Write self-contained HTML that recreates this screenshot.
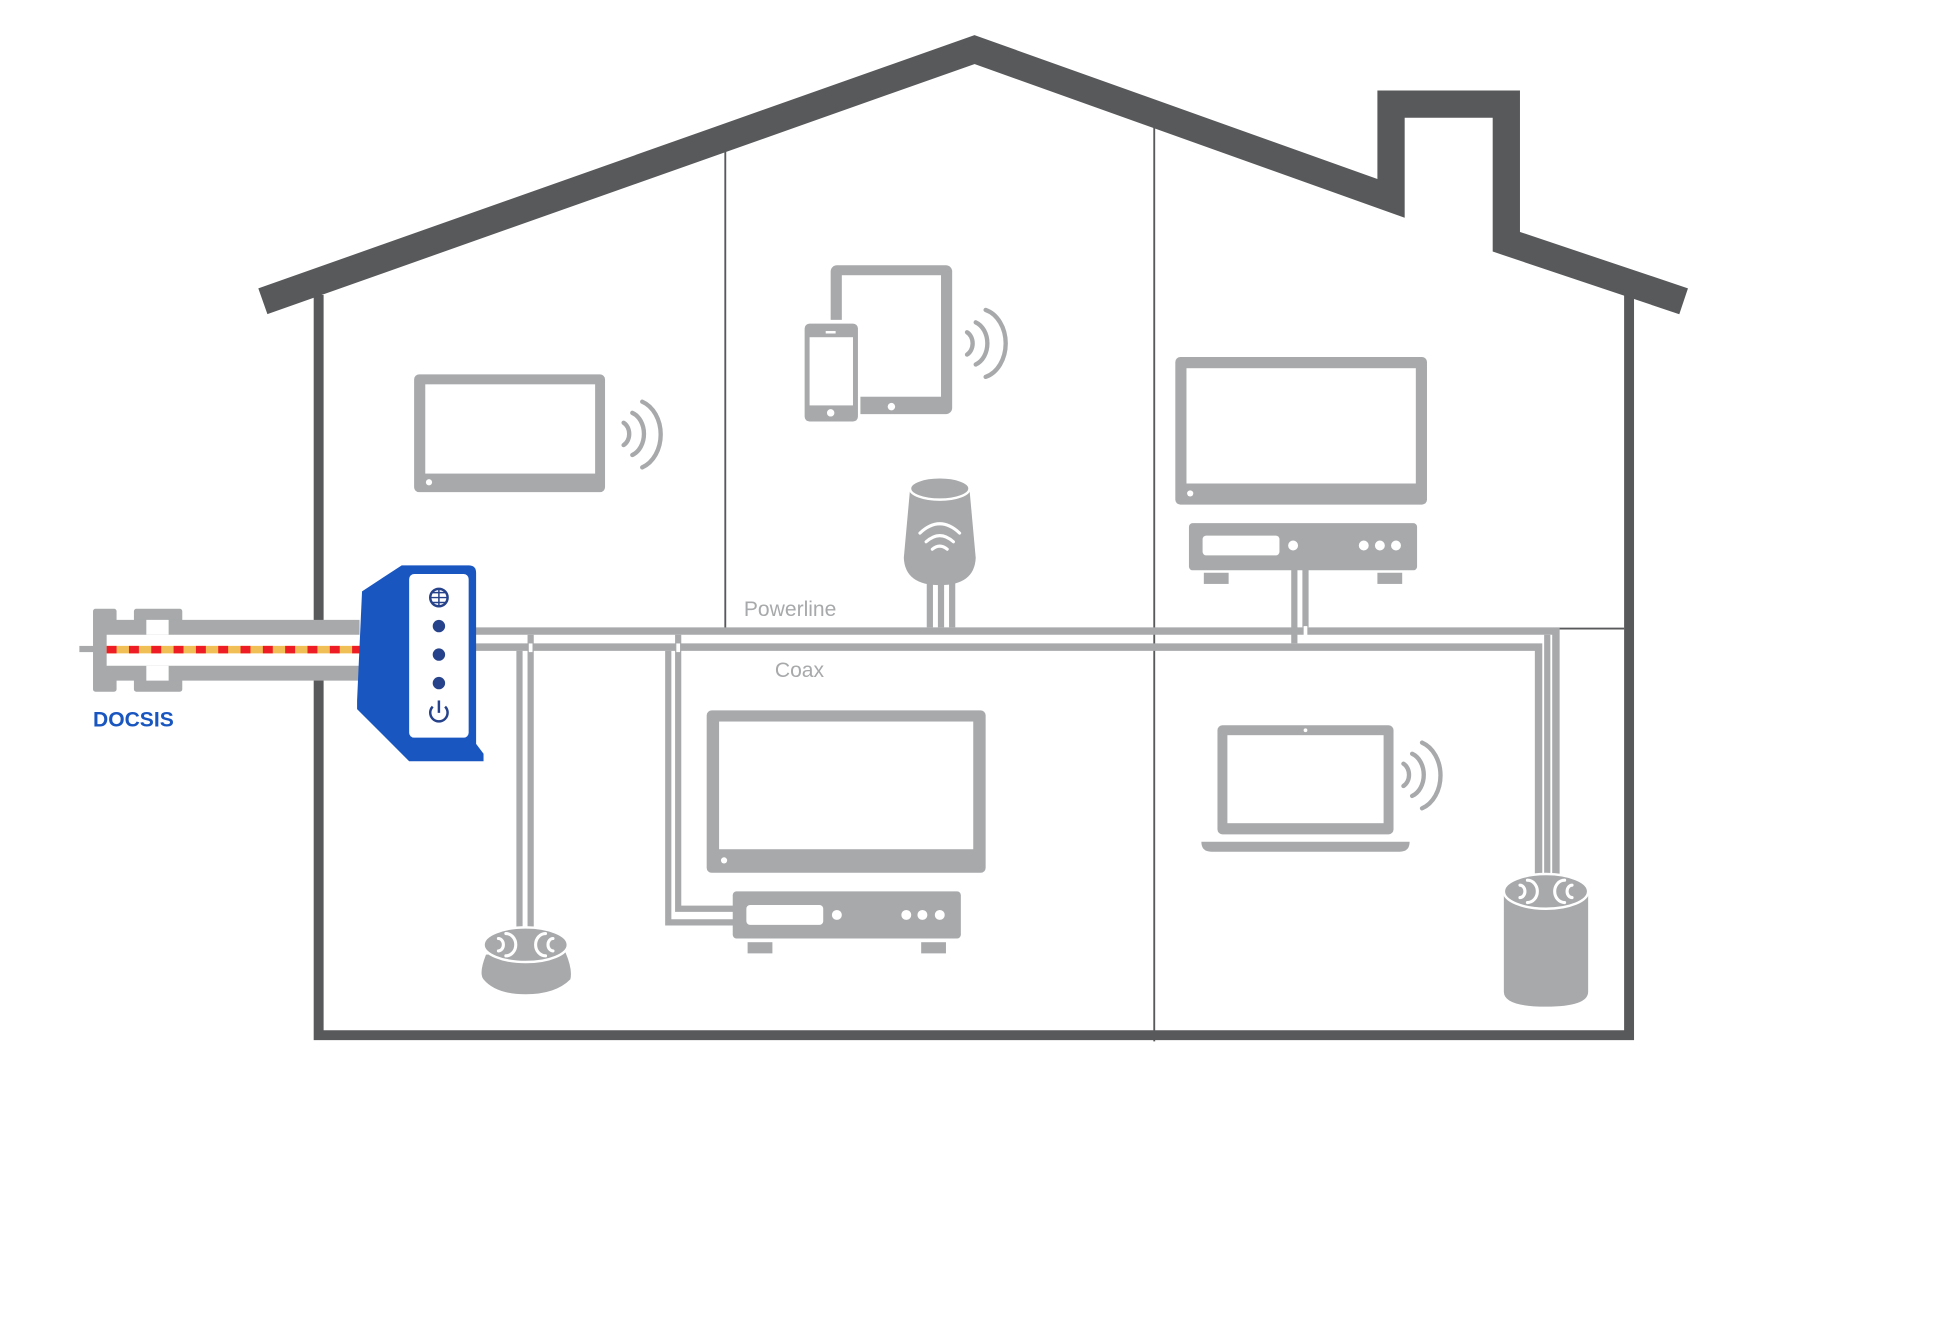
<!DOCTYPE html>
<html><head><style>html,body{margin:0;padding:0;background:#fff}svg{display:block}</style></head>
<body>
<svg width="1944" height="1331" viewBox="0 0 1568 1073.6" xmlns="http://www.w3.org/2000/svg" font-family="Liberation Sans, sans-serif">
<rect width="1568" height="1074" fill="#fff"/>
<g stroke="#58595b" stroke-width="1.5">
<line x1="585" y1="122" x2="585" y2="507"/>
<line x1="931" y1="102" x2="931" y2="840"/>
<line x1="1256" y1="507" x2="1310" y2="507"/>
</g>
<path d="M257 238 V835 H1314 V238" fill="none" stroke="#58595b" stroke-width="8"/>
<path d="M212 243 L786 40 L1122 160 V84 H1215 V195 L1358 243" fill="none" stroke="#58595b" stroke-width="22" stroke-linejoin="miter"/>
<g fill="none" stroke="#a7a9ab" stroke-linejoin="miter">
<path d="M383 509 H1255 V705" stroke-width="6"/>
<path d="M383 522 H1241 V705" stroke-width="6"/>
<g stroke-width="5">
<path d="M419 525 V752 M428 512 V752"/>
<path d="M547 512 V733 H592 M539 525 V744 H592"/>
<path d="M750 470 V506 M759 470 V506 M768 470 V506"/>
<path d="M1044 458 V519 M1053 458 V506"/>
<path d="M1248 512 V705"/>
</g>
</g>
<g stroke="#fff" stroke-width="3">
<line x1="428" y1="519" x2="428" y2="526"/><line x1="547" y1="519" x2="547" y2="526"/><line x1="1053" y1="505" x2="1053" y2="513"/>
</g>
<g fill="#a7a9ab">
<rect x="64" y="521" width="12" height="5"/>
<rect x="75" y="491" width="19" height="67" rx="2"/>
<rect x="108" y="491" width="39" height="67" rx="2"/>
<rect x="90" y="500" width="200" height="49"/>
</g>
<rect x="86" y="512" width="204" height="25" fill="#fff"/>
<rect x="118" y="500" width="18" height="12" fill="#fff"/>
<rect x="118" y="537" width="18" height="12" fill="#fff"/>
<line x1="86" y1="524" x2="292" y2="524" stroke="#f0bf55" stroke-width="6"/>
<line x1="86" y1="524" x2="292" y2="524" stroke="#ee1c25" stroke-width="6" stroke-dasharray="8 10"/>
<text x="75" y="586" font-size="17" fill="#1a56c0" font-weight="bold">DOCSIS</text>
<path d="M292 477 L324 456 H378 Q384 456 384 462 V600 L390 608 V614 H330 L288 572 V565 Z" fill="#1a56c0"/>
<rect x="330" y="463" width="48" height="132" rx="4" fill="#fff"/>
<g fill="#26428b"><circle cx="354" cy="505" r="5"/><circle cx="354" cy="528" r="5"/><circle cx="354" cy="551" r="5"/></g>
<circle cx="354" cy="482" r="7" fill="none" stroke="#26428b" stroke-width="2"/>
<path d="M347 482 H361 M354 475 V489 M349 478 H359 M349 486 H359" stroke="#26428b" stroke-width="1.2"/>
<path d="M349 570 A7 7 0 1 0 359 570" fill="none" stroke="#26428b" stroke-width="2"/>
<line x1="354" y1="565" x2="354" y2="575" stroke="#26428b" stroke-width="2"/>
<text x="600" y="497" font-size="17" fill="#a7a9ab">Powerline</text>
<text x="625" y="546" font-size="17" fill="#a7a9ab">Coax</text>
<g fill="#a7a9ab">
<rect x="334" y="302" width="154" height="95" rx="4"/>
<rect x="343" y="310" width="137" height="72" fill="#fff"/>
<rect x="670" y="214" width="98" height="120" rx="5"/>
<rect x="679" y="222" width="80" height="98" fill="#fff"/>
<rect x="646" y="258" width="48" height="84" fill="#fff"/>
<rect x="649" y="261" width="43" height="79" rx="4"/>
<rect x="653" y="272" width="35" height="55" fill="#fff"/>
<path d="M734 395 H782 L787 450 Q786 472 758 472 Q730 472 729 450 Z"/>
<ellipse cx="758" cy="394" rx="24" ry="9" fill="#a7a9ab" stroke="#fff" stroke-width="2"/>
<rect x="948" y="288" width="203" height="119" rx="4"/>
<rect x="957" y="297" width="185" height="93" fill="#fff"/>
<rect x="959" y="422" width="184" height="38" rx="3"/>
<rect x="971" y="462" width="20" height="9"/><rect x="1111" y="462" width="20" height="9"/>
<rect x="570" y="573" width="225" height="131" rx="4"/>
<rect x="580" y="582" width="205" height="103" fill="#fff"/>
<rect x="591" y="719" width="184" height="38" rx="3"/>
<rect x="603" y="760" width="20" height="9"/><rect x="743" y="760" width="20" height="9"/>
<rect x="982" y="585" width="142" height="88" rx="4"/>
<rect x="990" y="593" width="126" height="71" fill="#fff"/>
<path d="M969 679 H1137 Q1137 687 1129 687 H977 Q969 687 969 679 Z"/>
<path d="M392 770 Q386 785 390 790 Q400 802 424 802 Q448 802 460 790 Q462 782 456 768 Z"/>
<ellipse cx="424" cy="762" rx="34" ry="14" stroke="#fff" stroke-width="2"/>
<path d="M1213 720 V800 Q1213 812 1247 812 Q1281 812 1281 800 V720 Z"/>
<ellipse cx="1247" cy="719" rx="34" ry="14" stroke="#fff" stroke-width="2"/>
</g>
<g fill="#fff">
<circle cx="346" cy="389" r="2.5"/><circle cx="719" cy="328" r="3"/><circle cx="670" cy="333" r="3"/><rect x="666" y="267" width="8" height="2"/>
<circle cx="960" cy="398" r="2.5"/><circle cx="584" cy="694" r="2.5"/><circle cx="1053" cy="589" r="1.5"/>
<rect x="970" y="432" width="62" height="16" rx="3"/><circle cx="1043" cy="440" r="4"/><circle cx="1100" cy="440" r="4"/><circle cx="1113" cy="440" r="4"/><circle cx="1126" cy="440" r="4"/>
<rect x="602" y="730" width="62" height="16" rx="3"/><circle cx="675" cy="738" r="4"/><circle cx="731" cy="738" r="4"/><circle cx="744" cy="738" r="4"/><circle cx="758" cy="738" r="4"/>
</g>
<g fill="none" stroke="#a7a9ab" stroke-width="3.5" stroke-linecap="round">
<path d="M503 341 A8 10 0 0 1 503 359 M510 333 A14 18 0 0 1 510 367 M518 324 A22 28 0 0 1 518 377"/>
<path d="M780 268 A8 10 0 0 1 780 286 M787 260 A14 18 0 0 1 787 294 M795 250 A22 28 0 0 1 795 304"/>
<path d="M1132 616 A8 10 0 0 1 1132 634 M1139 608 A14 18 0 0 1 1139 642 M1147 599 A22 28 0 0 1 1147 652"/>
</g>
<g fill="none" stroke="#fff" stroke-width="2.5" stroke-linecap="round">
<path d="M742 430 Q758 415 774 430 M747 437 Q758 427 769 437 M752 443 Q758 438 764 443"/>
<path d="M402 757 A4 5 0 0 1 402 767 M408 753 A8 9 0 0 1 408 771 M446 757 A4 5 0 0 0 446 767 M440 753 A8 9 0 0 0 440 771"/>
<path d="M1226 714 A4 5 0 0 1 1226 724 M1232 710 A8 9 0 0 1 1232 728 M1268 714 A4 5 0 0 0 1268 724 M1262 710 A8 9 0 0 0 1262 728"/>
</g>
</svg>
</body></html>
